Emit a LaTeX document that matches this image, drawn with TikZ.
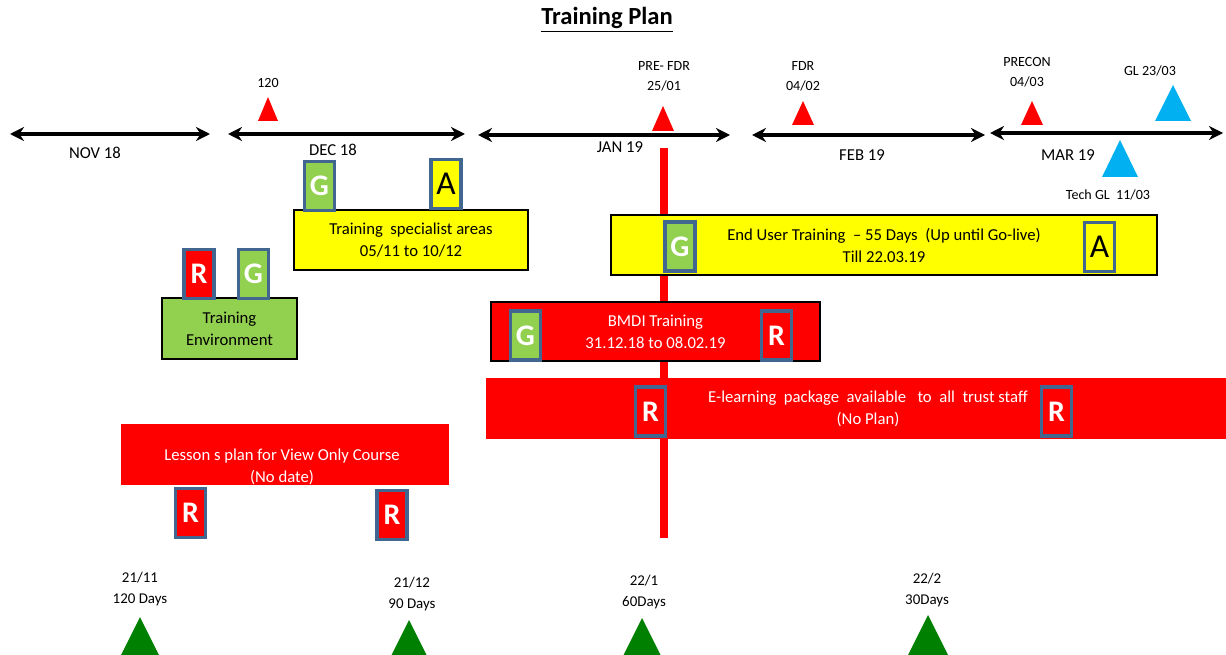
\documentclass[tikz,border=0pt]{standalone}
\usepackage{fontspec}
\setmainfont{Carlito}
\usetikzlibrary{arrows.meta}
\definecolor{ragred}{HTML}{FF0000}
\definecolor{raggreen}{HTML}{92D050}
\definecolor{ragamber}{HTML}{FFFF00}
\definecolor{badgeedge}{HTML}{41668F}
\definecolor{golive}{HTML}{00B0F0}
\definecolor{daygreen}{HTML}{008000}
\tikzset{
  month/.style={line width=1.8pt,{Stealth[length=8pt,width=8pt]}-{Stealth[length=8pt,width=8pt]}},
  monthlbl/.style={font=\fontsize{9.5}{11}\selectfont,inner sep=0pt},
  tinylbl/.style={font=\fontsize{8}{11.3}\selectfont,align=center,inner sep=0pt},
  daylbl/.style={font=\fontsize{8.5}{12}\selectfont,align=center,inner sep=0pt},
  planbox/.style={draw=black,line width=0.8pt,font=\fontsize{9.5}{12.5}\selectfont,align=center,inner sep=0pt},
  badge/.style={draw=badgeedge,line width=1.8pt,minimum width=0.6cm,minimum height=0.98cm,inner sep=0pt,font=\fontsize{17}{17}\selectfont\bfseries},
  amber/.style={font=\fontsize{19}{19}\selectfont},
}
\begin{document}
\begin{tikzpicture}[x=0.02cm,y=-0.02cm]
\useasboundingbox (0,0) rectangle (1226,655);
\node[font=\fontsize{14}{16}\selectfont\bfseries] (title) at (607,20) {\underline{Training Plan}};
% month bars
\foreach \nm/\xa/\xb/\y/\lx/\ly/\txt in {nov/10/210/134/95/153/NOV 18,dec/228/465/134/333/150/DEC 18,jan/478/730/135/620/147/JAN 19,feb/752/985/135/862/155/FEB 19,mar/990/1223/133/1068/155/MAR 19} {
  \coordinate (\nm-l) at (\xa,\y);
  \coordinate (\nm-r) at (\xb,\y);
  \draw[month] (\nm-l) -- (\nm-r);
  \node[monthlbl] (\nm-lbl) at (\lx,\ly) {\txt};
}
% go-live line
\coordinate (fdr-top) at (664,148);
\coordinate (fdr-bot) at (664,538);
\draw[ragred,line width=4pt] (fdr-top) -- (fdr-bot);
% milestones
\foreach \nm/\x/\ya/\yb/\w/\c in {m120/268/97/121/10/ragred,prefdr/663/106/131/11/ragred,fdr/803/101/125/11/ragred,precon/1032/101/125/11/ragred,gl/1173/85/121/18/golive,techgl/1120/140/177/18/golive} {
  \coordinate (\nm) at (\x,\ya);
  \fill[\c] (\nm) -- (\x+\w,\yb) -- (\x-\w,\yb) -- cycle;
}
\node[tinylbl] (m120-lbl) at (268,83) {120};
\node[tinylbl] (prefdr-lbl) at (664,76) {PRE- FDR\\25/01};
\node[tinylbl] (fdr-lbl) at (803,76) {FDR\\04/02};
\node[tinylbl] (precon-lbl) at (1027,72) {PRECON\\04/03};
\node[tinylbl] (gl-lbl) at (1150,71) {GL 23/03};
\node[tinylbl] (techgl-lbl) at (1108,195) {Tech GL\ \ 11/03};
% training blocks
\node[planbox,fill=ragamber,minimum width=4.68cm,minimum height=1.2cm] (spec) at (411,240) {Training\ \ specialist areas\\05/11 to 10/12};
\node[planbox,fill=raggreen,minimum width=2.7cm,minimum height=1.22cm] (env) at (229.5,328.5) {Training\\Environment};
\node[planbox,fill=ragamber,minimum width=10.92cm,minimum height=1.2cm] (eut) at (884,245) {End User Training\ \ -- 55 Days\ \ (Up until Go-live)\\Till 22.03.19};
\node[planbox,fill=ragred,text=white,minimum width=6.58cm,minimum height=1.18cm] (bmdi) at (655.5,331.5) {BMDI Training\\31.12.18 to 08.02.19};
\node[planbox,draw=none,fill=ragred,text=white,minimum width=15.28cm,minimum height=1.22cm] (elearn) at (868,408.5) {E-learning\ \ package\ \ available\ \ \ to\ \ all\ \ trust staff\\(No Plan)};
\node[planbox,draw=none,fill=ragred,minimum width=6.56cm,minimum height=1.22cm] (lesson) at (285,454.5) {};
\node[planbox,draw=none,text=white] (lesson-txt) at (282,467) {Lesson s plan for View Only Course\\(No date)};
% RAG badges
\foreach \nm/\x/\y/\c/\t in {specG/319.5/186/raggreen/G,envR/199/274/ragred/R,envG/253.5/274/raggreen/G,eutG/680/246.5/raggreen/G,bmdiG/525.5/335.5/raggreen/G,bmdiR/776.5/335.5/ragred/R,elR/650.5/411.5/ragred/R,elRb/1056.5/411.5/ragred/R,lesR/190.5/513/ragred/R,lesRb/392/515/ragred/R} {
  \node[badge,fill=\c,text=white] (\nm) at (\x,\y) {\t};
}
\node[badge,amber,fill=ragamber] (specA) at (446,184) {A};
\node[badge,amber,fill=ragamber] (eutA) at (1099.5,247) {A};
% countdown markers
\foreach \nm/\x/\y in {d120/140/617,d90/409/620,d60/642/618,d30/928/615} {
  \coordinate (\nm) at (\x,\y);
  \fill[daygreen] (\nm) -- (\x+21,\y+42) -- (\x-21,\y+42) -- cycle;
}
\node[daylbl] (d120-lbl) at (140,589) {21/11\\120 Days};
\node[daylbl] (d90-lbl) at (412,594) {21/12\\90 Days};
\node[daylbl] (d60-lbl) at (644,592) {22/1\\60Days};
\node[daylbl] (d30-lbl) at (927,590) {22/2\\30Days};
\end{tikzpicture}
\end{document}
